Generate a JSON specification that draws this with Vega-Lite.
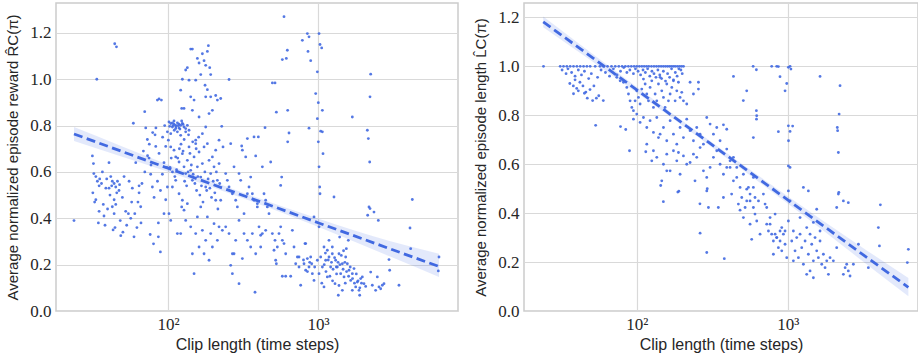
{
"$schema": "https://vega.github.io/schema/vega-lite/v6.json",
"padding": {"left": 5, "top": 2, "right": 0, "bottom": 0},
"background": "white",
"config": {
  "view": {"stroke": "#cccccc", "strokeWidth": 1.5},
  "axis": {"domain": false, "ticks": false, "gridColor": "#d9d9d9", "gridWidth": 1.2, "labelFont": "Liberation Serif", "labelFontSize": 17, "labelColor": "#262626", "labelPadding": 5, "titleFont": "Liberation Sans", "titleFontWeight": "normal", "titleColor": "#262626", "titleFontSize": 15},
  "axisX": {"labelPadding": 5, "titleFontSize": 16, "titlePadding": 4},
  "axisY": {"titlePadding": 9},
  "concat": {"spacing": 14}
},
"datasets": {
  "reward": [
{"clip":23.6,"value":0.39},{"clip":33.5,"value":1.0},{"clip":44.1,"value":1.153},{"clip":45.3,"value":1.14},{"clip":31.3,"value":0.669},{"clip":31.8,"value":0.636},{"clip":32.0,"value":0.593},{"clip":33.0,"value":0.58},{"clip":33.8,"value":0.56},{"clip":34.7,"value":0.54},{"clip":31.5,"value":0.51},{"clip":33.0,"value":0.48},{"clip":32.4,"value":0.47},{"clip":34.7,"value":0.43},{"clip":34.3,"value":0.38},{"clip":37.4,"value":0.41},{"clip":38.0,"value":0.37},{"clip":40.4,"value":0.64},{"clip":41.5,"value":0.58},{"clip":42.5,"value":0.56},{"clip":43.7,"value":0.55},{"clip":42.1,"value":0.54},{"clip":44.8,"value":0.535},{"clip":40.4,"value":0.53},{"clip":46.0,"value":0.56},{"clip":47.1,"value":0.52},{"clip":43.7,"value":0.48},{"clip":44.8,"value":0.46},{"clip":42.5,"value":0.45},{"clip":43.7,"value":0.42},{"clip":44.3,"value":0.36},{"clip":43.0,"value":0.35},{"clip":48.4,"value":0.325},{"clip":49.6,"value":0.49},{"clip":50.9,"value":0.58},{"clip":52.2,"value":0.43},{"clip":54.4,"value":0.42},{"clip":56.4,"value":0.40},{"clip":57.8,"value":0.53},{"clip":57.2,"value":0.47},{"clip":59.3,"value":0.32},{"clip":58.7,"value":0.81},{"clip":60.9,"value":0.64},{"clip":64.1,"value":0.51},{"clip":64.1,"value":0.54},{"clip":65.7,"value":0.45},{"clip":68.5,"value":0.69},{"clip":69.9,"value":0.86},{"clip":71.0,"value":0.79},{"clip":72.8,"value":0.74},{"clip":74.7,"value":0.66},{"clip":76.6,"value":0.59},{"clip":78.6,"value":0.535},{"clip":80.7,"value":0.49},{"clip":81.9,"value":0.76},{"clip":82.8,"value":0.71},{"clip":84.9,"value":0.91},{"clip":87.1,"value":0.915},{"clip":90.3,"value":0.91},{"clip":87.1,"value":0.68},{"clip":88.9,"value":0.255},{"clip":86.2,"value":0.32},{"clip":86.2,"value":0.38},{"clip":94.0,"value":0.42},{"clip":96.5,"value":0.48},{"clip":91.7,"value":0.59},{"clip":94.0,"value":0.64},{"clip":96.5,"value":0.71},
{"clip":35,"value":0.57},{"clip":36,"value":0.55},{"clip":38.5,"value":0.53},{"clip":39,"value":0.57},{"clip":36.5,"value":0.60},{"clip":41,"value":0.50},{"clip":45.5,"value":0.51},{"clip":47.5,"value":0.545},{"clip":37,"value":0.46},{"clip":39.5,"value":0.44},{"clip":48,"value":0.39},{"clip":50,"value":0.34},{"clip":53,"value":0.37},{"clip":55,"value":0.56},{"clip":60,"value":0.42},{"clip":62,"value":0.36},{"clip":66,"value":0.38},{"clip":63,"value":0.47},{"clip":67,"value":0.55},{"clip":70,"value":0.60},{"clip":73,"value":0.67},{"clip":75,"value":0.72},{"clip":77,"value":0.63},{"clip":79,"value":0.77},{"clip":83,"value":0.79},{"clip":85,"value":0.56},{"clip":89,"value":0.52},{"clip":92,"value":0.75},{"clip":95,"value":0.80},{"clip":80,"value":0.29},{"clip":76,"value":0.33},
{"clip":101.5,"value":0.816},{"clip":104.2,"value":0.809},{"clip":106.9,"value":0.812},{"clip":109.6,"value":0.806},{"clip":112.5,"value":0.801},{"clip":115.4,"value":0.812},{"clip":118.4,"value":0.806},{"clip":121.4,"value":0.801},{"clip":124.6,"value":0.809},{"clip":127.8,"value":0.794},{"clip":106.9,"value":0.794},{"clip":112.5,"value":0.787},{"clip":118.4,"value":0.79},{"clip":131.1,"value":0.787},{"clip":102.6,"value":0.797},{"clip":109.6,"value":0.82},{"clip":123.3,"value":0.82},{"clip":134.5,"value":0.801},{"clip":99.0,"value":0.773},{"clip":104.2,"value":0.765},{"clip":115.4,"value":0.773},{"clip":121.4,"value":0.758},{"clip":131.1,"value":0.773},{"clip":138.0,"value":0.78},{"clip":110,"value":0.78},{"clip":113,"value":0.795},{"clip":117,"value":0.8},{"clip":120,"value":0.785},{"clip":126,"value":0.805},{"clip":108,"value":0.8},
{"clip":100.5,"value":0.737},{"clip":104.2,"value":0.708},{"clip":109.6,"value":0.694},{"clip":112.5,"value":0.665},{"clip":118.4,"value":0.643},{"clip":124.6,"value":0.679},{"clip":127.8,"value":0.622},{"clip":131.1,"value":0.593},{"clip":134.5,"value":0.65},{"clip":138.0,"value":0.708},{"clip":141.6,"value":0.607},{"clip":145.3,"value":0.564},{"clip":149.1,"value":0.665},{"clip":152.9,"value":0.722},{"clip":156.9,"value":0.622},{"clip":161.0,"value":0.686},{"clip":165.2,"value":0.578},{"clip":169.4,"value":0.636},{"clip":173.8,"value":0.708},{"clip":178.3,"value":0.535},{"clip":182.9,"value":0.722},{"clip":187.7,"value":0.65},{"clip":192.5,"value":0.593},{"clip":197.5,"value":0.665},{"clip":202.6,"value":0.622},{"clip":207.9,"value":0.694},{"clip":213.3,"value":0.564},{"clip":218.8,"value":0.636},{"clip":224.5,"value":0.478},{"clip":106.9,"value":0.535},{"clip":112.5,"value":0.564},{"clip":118.4,"value":0.506},{"clip":124.6,"value":0.478},{"clip":127.8,"value":0.435},{"clip":131.1,"value":0.391},{"clip":134.5,"value":0.463},{"clip":141.6,"value":0.363},{"clip":145.3,"value":0.247},{"clip":149.1,"value":0.161},{"clip":152.9,"value":0.334},{"clip":156.9,"value":0.406},{"clip":161.0,"value":0.276},{"clip":165.2,"value":0.449},{"clip":169.4,"value":0.348},{"clip":173.8,"value":0.247},{"clip":178.3,"value":0.305},{"clip":182.9,"value":0.406},{"clip":187.7,"value":0.219},{"clip":192.5,"value":0.334},{"clip":197.5,"value":0.276},{"clip":202.6,"value":0.377},{"clip":207.9,"value":0.478},{"clip":213.3,"value":0.305},{"clip":218.8,"value":0.363},{"clip":230.2,"value":0.348},{"clip":242.3,"value":0.363},{"clip":255.1,"value":0.334},{"clip":261.7,"value":0.197},{"clip":268.5,"value":0.161},{"clip":275.4,"value":0.247},{"clip":101.5,"value":0.42},{"clip":104.2,"value":0.391},{"clip":99.0,"value":0.535},{"clip":115.4,"value":0.334},{"clip":121.4,"value":0.334},{"clip":123.3,"value":0.449},
{"clip":103,"value":0.62},{"clip":107,"value":0.6},{"clip":111,"value":0.58},{"clip":114,"value":0.61},{"clip":116,"value":0.66},{"clip":119,"value":0.7},{"clip":122,"value":0.72},{"clip":126,"value":0.69},{"clip":129,"value":0.56},{"clip":133,"value":0.54},{"clip":136,"value":0.6},{"clip":140,"value":0.68},{"clip":143,"value":0.63},{"clip":147,"value":0.59},{"clip":151,"value":0.55},{"clip":155,"value":0.52},{"clip":158,"value":0.58},{"clip":163,"value":0.5},{"clip":167,"value":0.54},{"clip":171,"value":0.47},{"clip":176,"value":0.6},{"clip":181,"value":0.52},{"clip":185,"value":0.57},{"clip":190,"value":0.53},{"clip":195,"value":0.49},{"clip":200,"value":0.56},{"clip":205,"value":0.51},{"clip":210,"value":0.6},{"clip":215,"value":0.44},{"clip":221,"value":0.55},{"clip":128,"value":0.74},{"clip":137,"value":0.76},{"clip":146,"value":0.73},{"clip":154,"value":0.7},{"clip":160,"value":0.75},{"clip":105,"value":0.66},{"clip":98,"value":0.62},
{"clip":124.6,"value":1.0},{"clip":131.1,"value":1.04},{"clip":134.5,"value":1.05},{"clip":141.6,"value":1.13},{"clip":145.3,"value":1.13},{"clip":138.0,"value":0.996},{"clip":121.4,"value":0.953},{"clip":123.3,"value":0.874},{"clip":127.8,"value":0.874},{"clip":141.6,"value":0.924},{"clip":145.3,"value":0.866},{"clip":149.1,"value":0.91},{"clip":152.9,"value":0.996},{"clip":156.9,"value":1.09},{"clip":161.0,"value":1.07},{"clip":165.2,"value":1.02},{"clip":169.4,"value":1.11},{"clip":173.8,"value":1.08},{"clip":178.3,"value":1.06},{"clip":182.9,"value":1.12},{"clip":185.8,"value":1.145},{"clip":176.5,"value":0.974},{"clip":182.9,"value":0.955},{"clip":189.6,"value":1.05},{"clip":192.5,"value":1.02},{"clip":192.5,"value":0.924},{"clip":178.3,"value":0.924},{"clip":197.5,"value":0.866},{"clip":187.7,"value":0.852},{"clip":207.9,"value":0.93},{"clip":213.3,"value":0.91},{"clip":224.5,"value":0.917},{"clip":161.0,"value":0.837},{"clip":169.4,"value":0.765},{"clip":178.3,"value":0.794},{"clip":152.9,"value":0.737},{"clip":218.8,"value":0.737},{"clip":228.0,"value":0.797},{"clip":255.1,"value":0.999},{"clip":232.6,"value":0.708},
{"clip":242.3,"value":0.593},{"clip":248.6,"value":0.564},{"clip":255.1,"value":0.535},{"clip":261.7,"value":0.722},{"clip":268.5,"value":0.506},{"clip":275.4,"value":0.622},{"clip":282.6,"value":0.478},{"clip":289.9,"value":0.449},{"clip":297.4,"value":0.593},{"clip":305.1,"value":0.564},{"clip":309.8,"value":0.712},{"clip":313.0,"value":0.694},{"clip":321.1,"value":0.42},{"clip":329.5,"value":0.665},{"clip":338.0,"value":0.506},{"clip":346.7,"value":0.535},{"clip":355.7,"value":0.578},{"clip":364.9,"value":0.506},{"clip":374.4,"value":0.478},{"clip":384.1,"value":0.669},{"clip":394.0,"value":0.449},{"clip":404.2,"value":0.363},{"clip":414.7,"value":0.327},{"clip":425.5,"value":0.622},{"clip":436.5,"value":0.506},{"clip":447.8,"value":0.478},{"clip":459.4,"value":0.449},{"clip":471.3,"value":0.42},{"clip":483.5,"value":0.643},{"clip":338.0,"value":0.744},{"clip":374.4,"value":0.751},{"clip":400.1,"value":0.751},{"clip":443.3,"value":0.791},{"clip":297.4,"value":0.118},{"clip":380.2,"value":0.081},{"clip":268.5,"value":0.247},{"clip":313.0,"value":0.226},{"clip":355.7,"value":0.276},{"clip":384.1,"value":0.247},{"clip":414.7,"value":0.276},{"clip":321.1,"value":0.334},{"clip":338.0,"value":0.305},{"clip":364.9,"value":0.334},{"clip":425.5,"value":0.334},{"clip":447.8,"value":0.348},{"clip":297.4,"value":0.391},{"clip":282.6,"value":0.305},{"clip":394.0,"value":0.463},
{"clip":496.1,"value":0.334},{"clip":508.9,"value":0.262},{"clip":522.1,"value":0.219},{"clip":527.5,"value":0.204},{"clip":516.7,"value":0.305},{"clip":535.6,"value":0.276},{"clip":549.5,"value":0.334},{"clip":563.7,"value":0.363},{"clip":578.3,"value":0.305},{"clip":593.3,"value":0.291},{"clip":608.7,"value":0.247},{"clip":578.3,"value":0.15},{"clip":608.7,"value":0.15},{"clip":657.3,"value":0.15},{"clip":563.7,"value":0.542},{"clip":572.5,"value":0.578},{"clip":496.1,"value":0.984},{"clip":516.7,"value":0.984},{"clip":527.5,"value":0.858},{"clip":578.3,"value":1.085},{"clip":614.9,"value":1.09},{"clip":624.5,"value":1.125},{"clip":593.3,"value":1.27},{"clip":627.7,"value":0.866},{"clip":640.7,"value":0.768},{"clip":627.7,"value":0.73},{"clip":674.4,"value":0.348},{"clip":691.8,"value":0.276},{"clip":709.8,"value":0.204},{"clip":728.2,"value":0.233},{"clip":747.1,"value":0.19},{"clip":766.5,"value":0.111},{"clip":786.3,"value":1.168},{"clip":819.2,"value":0.291},{"clip":849.1,"value":1.197},{"clip":871.0,"value":1.183},{"clip":857.7,"value":1.12},{"clip":893.7,"value":1.08},{"clip":871.0,"value":0.789},{"clip":747.1,"value":0.233},{"clip":806.7,"value":0.204},{"clip":827.7,"value":0.176},{"clip":849.1,"value":0.226},{"clip":871.0,"value":0.19},{"clip":893.7,"value":0.233},{"clip":916.8,"value":0.161},{"clip":940.5,"value":0.132},{"clip":907.5,"value":0.204},
{"clip":964.8,"value":0.938},{"clip":989.9,"value":1.032},{"clip":1005,"value":0.899},{"clip":1016,"value":1.197},{"clip":1031,"value":1.15},{"clip":1058,"value":1.135},{"clip":989.9,"value":0.83},{"clip":1005,"value":0.73},{"clip":1016,"value":0.622},{"clip":1026,"value":0.535},{"clip":1031,"value":0.506},{"clip":1016,"value":0.363},{"clip":1042,"value":0.776},{"clip":1069,"value":0.773},{"clip":1080,"value":0.679},{"clip":1069,"value":0.866},{"clip":989.9,"value":0.219},{"clip":1016,"value":0.161},{"clip":1042,"value":0.233},{"clip":1069,"value":0.19},{"clip":1096,"value":0.104},{"clip":1125,"value":0.219},{"clip":1154,"value":0.147},{"clip":1184,"value":0.233},{"clip":1214,"value":0.19},{"clip":1246,"value":0.247},{"clip":1278,"value":0.492},{"clip":1298,"value":0.118},{"clip":1311,"value":0.219},{"clip":1345,"value":0.19},{"clip":1380,"value":0.247},{"clip":1394,"value":0.319},{"clip":1416,"value":0.161},{"clip":1453,"value":0.204},{"clip":1491,"value":0.147},{"clip":1529,"value":0.233},{"clip":1545,"value":0.269},{"clip":1569,"value":0.204},{"clip":1366,"value":0.068},{"clip":1453,"value":0.089},{"clip":1593,"value":0.305},{"clip":1610,"value":0.176},{"clip":1652,"value":0.132},{"clip":1694,"value":0.161},{"clip":1738,"value":0.183},{"clip":1783,"value":0.104},{"clip":1829,"value":0.125},{"clip":1877,"value":0.089},{"clip":1925,"value":0.14},{"clip":1975,"value":0.147},{"clip":2026,"value":0.118},{"clip":1896,"value":0.068},{"clip":1694,"value":0.089},{"clip":1184,"value":0.305},{"clip":1246,"value":0.276},{"clip":1325,"value":0.19},{"clip":1096,"value":0.276},{"clip":1154,"value":0.262},{"clip":940.5,"value":0.406},{"clip":827.7,"value":0.291},{"clip":1694,"value":0.837},{"clip":2079,"value":0.106},
{"clip":1100,"value":0.2},{"clip":1130,"value":0.17},{"clip":1170,"value":0.22},{"clip":1200,"value":0.15},{"clip":1230,"value":0.21},{"clip":1260,"value":0.18},{"clip":1290,"value":0.23},{"clip":1330,"value":0.16},{"clip":1360,"value":0.21},{"clip":1400,"value":0.2},{"clip":1430,"value":0.24},{"clip":1470,"value":0.18},{"clip":1510,"value":0.21},{"clip":1550,"value":0.17},{"clip":1600,"value":0.15},{"clip":1640,"value":0.19},{"clip":1700,"value":0.14},{"clip":1750,"value":0.12},{"clip":1800,"value":0.16},{"clip":1850,"value":0.13},{"clip":1900,"value":0.1},{"clip":1950,"value":0.12},{"clip":1060,"value":0.12},{"clip":1120,"value":0.25},{"clip":1250,"value":0.13},{"clip":1380,"value":0.11},{"clip":1480,"value":0.26},{"clip":1520,"value":0.12},{"clip":800,"value":0.22},{"clip":850,"value":0.17},{"clip":880,"value":0.21},{"clip":950,"value":0.19},
{"clip":2133,"value":0.78},{"clip":2166,"value":0.744},{"clip":2211,"value":0.643},{"clip":2222,"value":0.924},{"clip":2245,"value":1.022},{"clip":2188,"value":0.449},{"clip":2222,"value":0.442},{"clip":2144,"value":0.413},{"clip":2362,"value":0.427},{"clip":2525,"value":0.391},{"clip":2245,"value":0.168},{"clip":2302,"value":0.111},{"clip":2423,"value":0.089},{"clip":2486,"value":0.147},{"clip":2551,"value":0.104},{"clip":2617,"value":0.096},{"clip":2685,"value":0.111},{"clip":2754,"value":0.118},{"clip":2974,"value":0.222},{"clip":3005,"value":0.176},{"clip":3467,"value":0.111},{"clip":4148,"value":0.269},{"clip":4106,"value":0.358},{"clip":4255,"value":0.481},{"clip":6407,"value":0.233},{"clip":6342,"value":0.173}
  ],
  "length": [
{"clip":24.1,"value":1.0},{"clip":31.1,"value":1.0},{"clip":32.7,"value":1.0},{"clip":34.4,"value":1.0},{"clip":36.2,"value":1.0},{"clip":38.1,"value":1.0},{"clip":40.1,"value":1.0},{"clip":42.2,"value":1.0},{"clip":44.4,"value":1.0},{"clip":46.7,"value":1.0},{"clip":49.1,"value":1.0},{"clip":53,"value":1.0},{"clip":57,"value":1.0},{"clip":60,"value":1.0},{"clip":64,"value":1.0},{"clip":68,"value":1.0},{"clip":72,"value":1.0},{"clip":76,"value":1.0},{"clip":80,"value":1.0},{"clip":84,"value":1.0},{"clip":88,"value":1.0},{"clip":92,"value":1.0},{"clip":96,"value":1.0},{"clip":100,"value":1.0},{"clip":104,"value":1.0},{"clip":108,"value":1.0},{"clip":112,"value":1.0},{"clip":116,"value":1.0},{"clip":120,"value":1.0},{"clip":125,"value":1.0},{"clip":130,"value":1.0},{"clip":135,"value":1.0},{"clip":140,"value":1.0},{"clip":145,"value":1.0},{"clip":150,"value":1.0},{"clip":155,"value":1.0},{"clip":160,"value":1.0},{"clip":165,"value":1.0},{"clip":170,"value":1.0},{"clip":175,"value":1.0},{"clip":180,"value":1.0},{"clip":186,"value":1.0},{"clip":192,"value":1.0},{"clip":198,"value":1.0},{"clip":204,"value":1.0},
{"clip":32,"value":0.985},{"clip":34,"value":0.97},{"clip":35,"value":0.99},{"clip":37,"value":0.975},{"clip":39,"value":0.96},{"clip":41,"value":0.985},{"clip":43,"value":0.965},{"clip":45,"value":0.98},{"clip":48,"value":0.95},{"clip":50,"value":0.97},{"clip":55,"value":0.955},{"clip":58,"value":0.985},{"clip":62,"value":0.975},{"clip":66,"value":0.96},{"clip":70,"value":0.99},{"clip":74,"value":0.965},{"clip":78,"value":0.98},{"clip":82,"value":0.995},{"clip":86,"value":0.975},{"clip":90,"value":0.985},{"clip":95,"value":0.97},{"clip":98,"value":0.99},{"clip":102,"value":0.98},{"clip":106,"value":0.965},{"clip":110,"value":0.985},{"clip":114,"value":0.975},{"clip":118,"value":0.99},{"clip":122,"value":0.96},{"clip":126,"value":0.98},{"clip":130,"value":0.97},{"clip":134,"value":0.955},{"clip":138,"value":0.985},{"clip":142,"value":0.965},{"clip":146,"value":0.95},{"clip":150,"value":0.98},{"clip":155,"value":0.94},{"clip":160,"value":0.97},{"clip":165,"value":0.955},{"clip":170,"value":0.99},{"clip":175,"value":0.945},{"clip":180,"value":0.975},{"clip":185,"value":0.96},{"clip":190,"value":0.99},{"clip":196,"value":0.985},{"clip":200,"value":0.97},
{"clip":36,"value":0.93},{"clip":38,"value":0.92},{"clip":39,"value":0.945},{"clip":40,"value":0.91},{"clip":41,"value":0.9},{"clip":42,"value":0.935},{"clip":44,"value":0.92},{"clip":46,"value":0.895},{"clip":47,"value":0.87},{"clip":49,"value":0.905},{"clip":51,"value":0.86},{"clip":52,"value":0.92},{"clip":54,"value":0.87},{"clip":56,"value":0.88},{"clip":38.1,"value":0.888},{"clip":45,"value":0.89},{"clip":60,"value":0.86},{"clip":53.4,"value":0.759},{"clip":78,"value":0.754},{"clip":84.5,"value":0.742},{"clip":89.5,"value":0.655},{"clip":114.7,"value":0.651},
{"clip":73.7,"value":0.955},{"clip":77.6,"value":0.941},{"clip":81.6,"value":0.935},{"clip":85.9,"value":0.914},{"clip":88.1,"value":0.887},{"clip":90.3,"value":0.859},{"clip":92.7,"value":0.832},{"clip":95,"value":0.819},{"clip":97.5,"value":0.859},{"clip":100,"value":0.9},{"clip":102.6,"value":0.873},{"clip":105.2,"value":0.846},{"clip":107.9,"value":0.907},{"clip":110.7,"value":0.948},{"clip":113.6,"value":0.928},{"clip":116.5,"value":0.887},{"clip":119.5,"value":0.859},{"clip":122.5,"value":0.914},{"clip":125.7,"value":0.941},{"clip":128.9,"value":0.832},{"clip":132.3,"value":0.887},{"clip":135.7,"value":0.859},{"clip":139.2,"value":0.928},{"clip":142.7,"value":0.955},{"clip":146.4,"value":0.9},{"clip":150.2,"value":0.873},{"clip":154,"value":0.832},{"clip":158,"value":0.928},{"clip":162.1,"value":0.859},{"clip":166.3,"value":0.887},{"clip":170.6,"value":0.914},{"clip":174.9,"value":0.941},{"clip":179.5,"value":0.859},{"clip":184.1,"value":0.9},{"clip":188.8,"value":0.935},{"clip":193.6,"value":0.873},{"clip":198.6,"value":0.894},{"clip":203.7,"value":0.859},{"clip":214.3,"value":0.846},{"clip":225.5,"value":0.935},{"clip":237.3,"value":0.887},{"clip":256.1,"value":0.907},{"clip":256.1,"value":0.935},
{"clip":95,"value":0.784},{"clip":100,"value":0.805},{"clip":105.2,"value":0.771},{"clip":110.7,"value":0.791},{"clip":116.5,"value":0.75},{"clip":122.5,"value":0.778},{"clip":128.9,"value":0.73},{"clip":135.7,"value":0.791},{"clip":142.7,"value":0.723},{"clip":150.2,"value":0.75},{"clip":158,"value":0.696},{"clip":166.3,"value":0.778},{"clip":174.9,"value":0.723},{"clip":184.1,"value":0.682},{"clip":193.6,"value":0.75},{"clip":203.7,"value":0.709},{"clip":214.3,"value":0.784},{"clip":225.5,"value":0.737},{"clip":237.3,"value":0.696},{"clip":249.6,"value":0.75},{"clip":262.7,"value":0.723},{"clip":276.4,"value":0.682},{"clip":290.8,"value":0.791},{"clip":306,"value":0.764},{"clip":321.9,"value":0.723},{"clip":338.7,"value":0.75},{"clip":356.3,"value":0.696},{"clip":375,"value":0.761},{"clip":394.5,"value":0.743},
{"clip":150.2,"value":0.6},{"clip":158,"value":0.641},{"clip":166.3,"value":0.573},{"clip":174.9,"value":0.655},{"clip":184.1,"value":0.614},{"clip":188.8,"value":0.648},{"clip":193.6,"value":0.559},{"clip":203.7,"value":0.634},{"clip":214.3,"value":0.6},{"clip":225.5,"value":0.607},{"clip":237.3,"value":0.641},{"clip":249.6,"value":0.628},{"clip":262.7,"value":0.668},{"clip":276.4,"value":0.573},{"clip":290.8,"value":0.546},{"clip":306,"value":0.587},{"clip":321.9,"value":0.628},{"clip":338.7,"value":0.655},{"clip":356.3,"value":0.6},{"clip":375,"value":0.559},{"clip":394.5,"value":0.587},{"clip":415,"value":0.614},{"clip":436.7,"value":0.532},{"clip":459.5,"value":0.587},{"clip":483.3,"value":0.505},{"clip":508.6,"value":0.559},{"clip":535.1,"value":0.498},{"clip":563,"value":0.478},{"clip":592.3,"value":0.546},{"clip":243,"value":0.532},{"clip":298.3,"value":0.423},{"clip":347,"value":0.423},{"clip":290.8,"value":0.491},{"clip":375,"value":0.464},{"clip":262.7,"value":0.318},{"clip":290.8,"value":0.239},{"clip":380,"value":0.214},{"clip":144,"value":0.513},{"clip":150,"value":0.447},{"clip":187,"value":0.486},{"clip":190,"value":0.49},{"clip":293,"value":0.5},{"clip":262,"value":0.438},
{"clip":483.3,"value":0.412},{"clip":508.6,"value":0.382},{"clip":535.1,"value":0.45},{"clip":563,"value":0.355},{"clip":577,"value":0.293},{"clip":592.3,"value":0.423},{"clip":607,"value":0.396},{"clip":623.3,"value":0.368},{"clip":655.8,"value":0.314},{"clip":690,"value":0.478},{"clip":708,"value":0.437},{"clip":725.9,"value":0.355},{"clip":745,"value":0.327},{"clip":763.8,"value":0.382},{"clip":783,"value":0.314},{"clip":803.6,"value":0.286},{"clip":825,"value":0.396},{"clip":845.5,"value":0.3},{"clip":867,"value":0.259},{"clip":889.6,"value":0.327},{"clip":913,"value":0.246},{"clip":936.1,"value":0.314},{"clip":960,"value":0.273},{"clip":984.9,"value":0.218},{"clip":1010,"value":0.368},{"clip":1010,"value":0.491},{"clip":1036,"value":0.45},{"clip":1036,"value":0.587},{"clip":1010,"value":0.593},
{"clip":1063,"value":0.286},{"clip":1090,"value":0.327},{"clip":1118,"value":0.246},{"clip":1147,"value":0.3},{"clip":1177,"value":0.218},{"clip":1207,"value":0.314},{"clip":1238,"value":0.259},{"clip":1270,"value":0.191},{"clip":1303,"value":0.286},{"clip":1336,"value":0.341},{"clip":1370,"value":0.232},{"clip":1406,"value":0.314},{"clip":1442,"value":0.273},{"clip":1479,"value":0.205},{"clip":1517,"value":0.3},{"clip":1556,"value":0.246},{"clip":1596,"value":0.218},{"clip":1637,"value":0.286},{"clip":1680,"value":0.191},{"clip":1723,"value":0.232},{"clip":1767,"value":0.177},{"clip":1813,"value":0.205},{"clip":1860,"value":0.15},{"clip":1907,"value":0.218},{"clip":1336,"value":0.15},{"clip":1406,"value":0.164},{"clip":1479,"value":0.136},{"clip":1090,"value":0.205},{"clip":1207,"value":0.382},{"clip":1479,"value":0.362},{"clip":1270,"value":0.505},{"clip":1370,"value":0.491},{"clip":1556,"value":0.416},{"clip":1637,"value":0.327},
{"clip":725.9,"value":0.423},{"clip":763.8,"value":0.355},{"clip":825,"value":0.314},{"clip":845.5,"value":0.3},{"clip":889.6,"value":0.286},{"clip":913,"value":0.341},{"clip":960,"value":0.327},{"clip":803.6,"value":0.232},
{"clip":2006,"value":0.205},{"clip":2111,"value":0.259},{"clip":2165,"value":0.478},{"clip":2180,"value":0.485},{"clip":2111,"value":0.423},{"clip":2130,"value":0.75},{"clip":2140,"value":0.737},{"clip":2165,"value":0.648},{"clip":2190,"value":0.805},{"clip":2221,"value":0.921},{"clip":2337,"value":0.15},{"clip":2400,"value":0.177},{"clip":2459,"value":0.191},{"clip":2520,"value":0.164},{"clip":2587,"value":0.143},{"clip":2337,"value":0.45},{"clip":2520,"value":0.443},{"clip":2722,"value":0.191},{"clip":2940,"value":0.273},{"clip":3421,"value":0.177},{"clip":3985,"value":0.341},{"clip":4050,"value":0.266},{"clip":4110,"value":0.434},{"clip":6297,"value":0.252},{"clip":6200,"value":0.198},
{"clip":590,"value":1.0},{"clip":620,"value":0.986},{"clip":783,"value":1.0},{"clip":845,"value":1.0},{"clip":867,"value":0.999},{"clip":889,"value":0.958},{"clip":1010,"value":0.996},{"clip":1036,"value":1.0},{"clip":1050,"value":0.989},{"clip":985,"value":0.93},{"clip":960,"value":0.9},{"clip":620,"value":0.819},{"clip":623,"value":0.798},{"clip":621,"value":0.784},{"clip":535,"value":0.9},{"clip":508,"value":0.86},{"clip":437,"value":0.959},{"clip":592,"value":0.709},{"clip":1010,"value":0.757},{"clip":1036,"value":0.734},{"clip":1012,"value":0.696},{"clip":1078,"value":0.756},{"clip":1637,"value":0.959},{"clip":867,"value":0.733},
{"clip":394.5,"value":0.662},{"clip":415,"value":0.587},{"clip":425,"value":0.478},{"clip":436.7,"value":0.628},{"clip":459.5,"value":0.546},{"clip":471,"value":0.437},{"clip":496,"value":0.464},{"clip":522,"value":0.423},{"clip":549,"value":0.505},{"clip":563,"value":0.45},{"clip":592,"value":0.505},{"clip":607,"value":0.464},{"clip":640,"value":0.45},
{"clip":116.5,"value":0.682},{"clip":125.7,"value":0.614},{"clip":135.7,"value":0.628},{"clip":146.4,"value":0.532},{"clip":158,"value":0.573},{"clip":128.9,"value":0.655},{"clip":139.2,"value":0.709}
  ],
  "fitReward": [
{"clip":23.6,"value":0.764,"lo":0.734,"hi":0.794},{"clip":50,"value":0.687,"lo":0.665,"hi":0.709},{"clip":100,"value":0.616,"lo":0.601,"hi":0.631},{"clip":300,"value":0.504,"lo":0.492,"hi":0.516},{"clip":1000,"value":0.381,"lo":0.363,"hi":0.399},{"clip":3000,"value":0.269,"lo":0.236,"hi":0.302},{"clip":6410,"value":0.192,"lo":0.147,"hi":0.247}
  ],
  "fitLength": [
{"clip":24,"value":1.182,"lo":1.16,"hi":1.204},{"clip":50,"value":1.039,"lo":1.023,"hi":1.055},{"clip":100,"value":0.904,"lo":0.892,"hi":0.916},{"clip":300,"value":0.689,"lo":0.679,"hi":0.699},{"clip":1000,"value":0.454,"lo":0.439,"hi":0.469},{"clip":3000,"value":0.24,"lo":0.213,"hi":0.267},{"clip":6300,"value":0.097,"lo":0.06,"hi":0.135}
  ]
},
"hconcat": [
  {
    "width": 402, "height": 308,
    "encoding": {
      "x": {"field": "clip", "type": "quantitative", "scale": {"type": "log", "domain": [17.9, 8580], "nice": false}, "axis": {"values": [100, 1000], "labelExpr": "datum.value == 100 ? '10²' : '10³'", "title": "Clip length (time steps)"}},
      "y": {"field": "value", "type": "quantitative", "scale": {"domain": [0, 1.329], "nice": false, "zero": false}, "axis": {"values": [0, 0.2, 0.4, 0.6, 0.8, 1.0, 1.2], "format": ".1f"}, "title": "Average normalized episode reward R̂C(π)"}
    },
    "layer": [
      {"data": {"name": "reward"}, "mark": {"type": "circle", "size": 8, "opacity": 0.9, "color": "#4169e1"}},
      {"data": {"name": "fitReward"}, "mark": {"type": "area", "color": "#4169e1", "opacity": 0.15, "interpolate": "monotone"}, "encoding": {"y": {"field": "lo", "type": "quantitative", "title": "Average normalized episode reward R̂C(π)"}, "y2": {"field": "hi"}}},
      {"data": {"name": "fitReward"}, "mark": {"type": "line", "color": "#4169e1", "strokeWidth": 2.8, "strokeDash": [9, 4.5]}}
    ]
  },
  {
    "width": 394, "height": 308,
    "encoding": {
      "x": {"field": "clip", "type": "quantitative", "scale": {"type": "log", "domain": [17.9, 7295], "nice": false}, "axis": {"values": [100, 1000], "labelExpr": "datum.value == 100 ? '10²' : '10³'", "title": "Clip length (time steps)"}},
      "y": {"field": "value", "type": "quantitative", "scale": {"domain": [0, 1.259], "nice": false, "zero": false}, "axis": {"values": [0, 0.2, 0.4, 0.6, 0.8, 1.0, 1.2], "format": ".1f"}, "title": "Average normalized episode length L̂C(π)"}
    },
    "layer": [
      {"data": {"name": "length"}, "mark": {"type": "circle", "size": 8, "opacity": 0.9, "color": "#4169e1"}},
      {"data": {"name": "fitLength"}, "mark": {"type": "area", "color": "#4169e1", "opacity": 0.15, "interpolate": "monotone"}, "encoding": {"y": {"field": "lo", "type": "quantitative", "title": "Average normalized episode length L̂C(π)"}, "y2": {"field": "hi"}}},
      {"data": {"name": "fitLength"}, "mark": {"type": "line", "color": "#4169e1", "strokeWidth": 2.8, "strokeDash": [9, 4.5]}}
    ]
  }
]
}
